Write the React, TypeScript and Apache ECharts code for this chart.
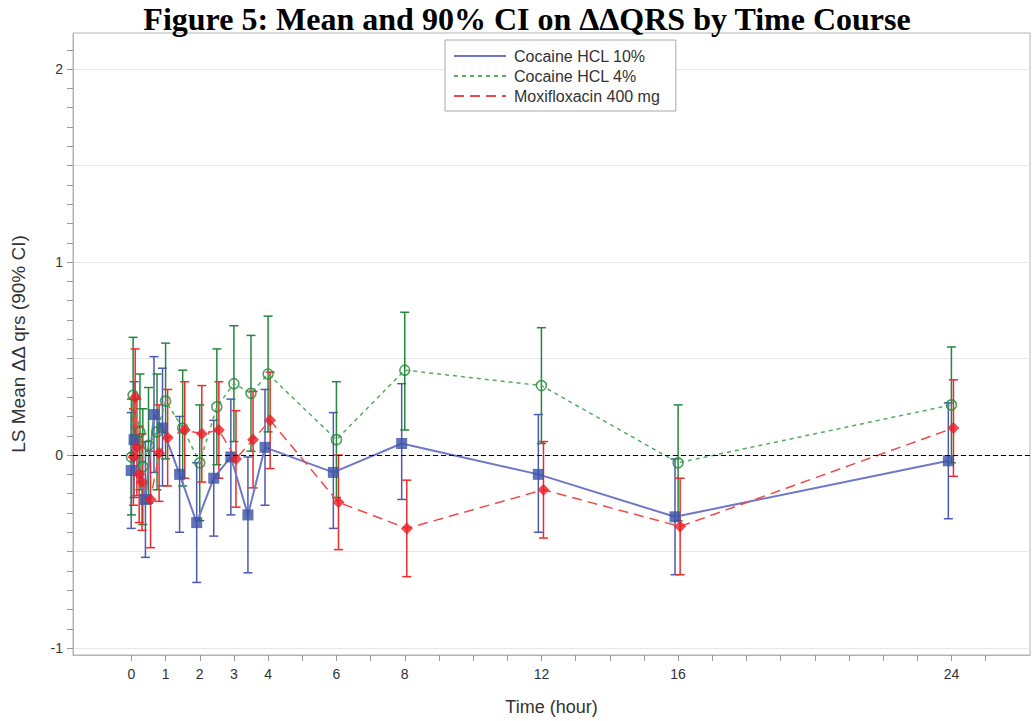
import React, { useEffect, useRef } from 'react';
import * as echarts from 'echarts';

// ---------- axis definitions ----------
const xLabelValues = [0, 1, 2, 3, 4, 6, 8, 12, 16, 24];
const xTickValues = [0, 1, 2, 3, 4, 5, 6, 7, 8, 9, 10, 11, 12, 13, 14, 15, 16, 17, 18, 19, 20, 21, 22, 23, 24, 25];
const yLabelValues = [-1, 0, 1, 2];
const yTickValues = [
  -1, -0.9, -0.8, -0.7, -0.6, -0.5, -0.4, -0.3, -0.2, -0.1, 0, 0.1, 0.2, 0.3, 0.4, 0.5,
  0.6, 0.7, 0.8, 0.9, 1, 1.1, 1.2, 1.3, 1.4, 1.5, 1.6, 1.7, 1.8, 1.9, 2, 2.1,
];
const yGridValues = [-1, -0.5, 0, 0.5, 1, 1.5, 2];

// ---------- series data ----------
const seriesNames = ['Cocaine HCL 10%', 'Cocaine HCL 4%', 'Moxifloxacin 400 mg'];

// Cocaine HCL 10%
const blueTimes = [0.083, 0.167, 0.5, 0.75, 1, 1.5, 2, 2.5, 3, 3.5, 4, 6, 8, 12, 16, 24];
const blueMean = [-0.08, 0.08, -0.23, 0.21, 0.14, -0.1, -0.35, -0.12, -0.01, -0.31, 0.04, -0.09, 0.06, -0.1, -0.32, -0.03];
const blueLower = [-0.38, -0.22, -0.53, -0.09, -0.16, -0.4, -0.66, -0.42, -0.31, -0.61, -0.26, -0.38, -0.23, -0.4, -0.62, -0.33];
const blueUpper = [0.22, 0.38, 0.07, 0.51, 0.45, 0.2, -0.04, 0.18, 0.29, -0.01, 0.34, 0.22, 0.37, 0.21, -0.02, 0.27];

// Cocaine HCL 4%
const greenTimes = [0, 0.05, 0.25, 0.333, 0.5, 0.75, 1, 1.5, 2, 2.5, 3, 3.5, 4, 6, 8, 12, 16, 24];
const greenMean = [-0.01, 0.31, 0.12, -0.06, 0.05, 0.12, 0.28, 0.14, -0.04, 0.25, 0.37, 0.32, 0.42, 0.08, 0.44, 0.36, -0.04, 0.26];
const greenLower = [-0.31, 0.01, -0.18, -0.36, -0.25, -0.18, -0.02, -0.16, -0.34, -0.05, 0.07, 0.02, 0.12, -0.22, 0.13, 0.06, -0.34, -0.04];
const greenUpper = [0.29, 0.61, 0.42, 0.24, 0.35, 0.42, 0.58, 0.44, 0.26, 0.55, 0.67, 0.62, 0.72, 0.38, 0.74, 0.66, 0.26, 0.56];

// Moxifloxacin 400 mg
const redTimes = [0, 0.05, 0.1, 0.167, 0.25, 0.5, 0.75, 1, 1.5, 2, 2.5, 3, 3.5, 4, 6, 8, 12, 16, 24];
const redMean = [-0.01, 0.3, 0.04, -0.1, -0.14, -0.23, 0.01, 0.09, 0.13, 0.11, 0.13, -0.02, 0.08, 0.18, -0.245, -0.38, -0.18, -0.37, 0.14];
const redLower = [-0.26, 0.05, -0.21, -0.35, -0.39, -0.48, -0.24, -0.16, -0.12, -0.14, -0.12, -0.27, -0.17, -0.07, -0.49, -0.63, -0.43, -0.62, -0.11];
const redUpper = [0.24, 0.55, 0.29, 0.15, 0.11, 0.02, 0.26, 0.34, 0.38, 0.36, 0.38, 0.23, 0.33, 0.43, 0.0, -0.13, 0.07, -0.12, 0.39];

// horizontal cluster offsets (hours) used to separate the groups
const groupOffsets = [-0.09, 0, 0.06];

const SANS = '"Liberation Sans", Arial, sans-serif';

type Group = {
  name: string;
  times: number[];
  mean: number[];
  lower: number[];
  upper: number[];
  offset: number;
  lineColor: string;
  lineWidth: number;
  dash: any;
  barColor: string;
  markColor: string;
  symbol: string;
  symbolSize: number;
  hollow: boolean;
};

const groups: Group[] = [
  {
    name: seriesNames[0], times: blueTimes, mean: blueMean, lower: blueLower, upper: blueUpper,
    offset: groupOffsets[0], lineColor: '#6E78C4', lineWidth: 2, dash: 'solid',
    barColor: '#4C5AB2', markColor: '#3A51A6', symbol: 'rect', symbolSize: 11, hollow: false,
  },
  {
    name: seriesNames[1], times: greenTimes, mean: greenMean, lower: greenLower, upper: greenUpper,
    offset: groupOffsets[1], lineColor: '#52AD5E', lineWidth: 1.5, dash: [4, 4],
    barColor: '#23883A', markColor: '#23883A', symbol: 'circle', symbolSize: 10, hollow: true,
  },
  {
    name: seriesNames[2], times: redTimes, mean: redMean, lower: redLower, upper: redUpper,
    offset: groupOffsets[2], lineColor: '#EE4B4B', lineWidth: 1.5, dash: [10, 6],
    barColor: '#EE2A2A', markColor: '#EC1C24', symbol: 'diamond', symbolSize: 12, hollow: false,
  },
];

export default function App() {
  const ref = useRef<HTMLDivElement>(null);

  useEffect(() => {
    if (!ref.current) return;
    const chart = echarts.init(ref.current, undefined, { renderer: 'svg' });

    const barSeries = groups.map((g) => ({
      type: 'custom',
      name: g.name + ' CI',
      z: 2,
      silent: true,
      encode: { x: 0, y: [1, 2] },
      data: g.times.map((t, i) => [t + g.offset, g.lower[i], g.upper[i]]),
      renderItem: (params: any, api: any) => {
        const x = api.value(0);
        const lo = api.coord([x, api.value(1)]);
        const hi = api.coord([x, api.value(2)]);
        const hw = 4.5;
        const style = { stroke: g.barColor, lineWidth: 1.5, fill: 'none' };
        return {
          type: 'group',
          children: [
            { type: 'line', shape: { x1: lo[0], y1: lo[1], x2: hi[0], y2: hi[1] }, style },
            { type: 'line', shape: { x1: lo[0] - hw, y1: lo[1], x2: lo[0] + hw, y2: lo[1] }, style },
            { type: 'line', shape: { x1: hi[0] - hw, y1: hi[1], x2: hi[0] + hw, y2: hi[1] }, style },
          ],
        };
      },
    }));

    const lineSeries = groups.map((g, gi) => ({
      type: 'line',
      name: g.name,
      z: 3,
      silent: true,
      symbol: 'none',
      data: g.times.map((t, i) => [t + g.offset, g.mean[i]]),
      lineStyle: { color: g.lineColor, width: g.lineWidth, type: g.dash },
      itemStyle: { color: g.lineColor },
      markLine:
        gi === 0
          ? {
              silent: true,
              symbol: ['none', 'none'],
              label: { show: false },
              lineStyle: { color: '#000', type: [5, 3], width: 1.2 },
              data: [{ yAxis: 0 }],
            }
          : undefined,
    }));

    const markSeries = groups.map((g) => ({
      type: 'scatter',
      name: g.name + ' mean',
      z: 4,
      silent: true,
      symbol: g.symbol,
      symbolSize: g.symbolSize,
      data: g.times.map((t, i) => [t + g.offset, g.mean[i]]),
      itemStyle: g.hollow
        ? { color: 'rgba(255,255,255,0)', borderColor: g.markColor, borderWidth: 1.6 }
        : { color: g.markColor },
    }));

    chart.setOption({
      animation: false,
      backgroundColor: '#fff',
      title: {
        text: 'Figure 5: Mean and 90% CI on ΔΔQRS by Time Course',
        left: 522,
        textAlign: 'center',
        top: -2,
        textStyle: {
          fontFamily: '"Liberation Serif", "Times New Roman", serif',
          fontWeight: 'bold',
          fontSize: 32,
          color: '#000',
        },
      },
      legend: {
        data: seriesNames,
        orient: 'vertical',
        left: 445,
        top: 40,
        itemWidth: 52,
        itemHeight: 14,
        itemGap: 4,
        padding: [8, 16, 7, 8],
        backgroundColor: '#fff',
        borderColor: '#a8a8a8',
        borderWidth: 1,
        borderRadius: 0,
        selectedMode: false,
        itemStyle: { opacity: 0 },
        textStyle: { fontFamily: SANS, fontSize: 16, color: '#333', padding: [0, 0, 0, 3] },
        z: 10,
      },
      grid: {
        left: 73,
        right: 4,
        top: 33,
        bottom: 66,
        show: true,
        borderColor: '#b4b4b4',
        borderWidth: 1,
        backgroundColor: '#fff',
      },
      xAxis: {
        type: 'value',
        min: -1.71,
        max: 26.3,
        name: 'Time (hour)',
        nameLocation: 'middle',
        nameGap: 43,
        nameTextStyle: { fontFamily: SANS, fontSize: 18, color: '#333' },
        axisLine: { show: true, onZero: false, lineStyle: { color: '#b4b4b4' } },
        axisTick: { show: true, length: 6, customValues: xTickValues, lineStyle: { color: '#999' } },
        axisLabel: { customValues: xLabelValues, fontFamily: SANS, fontSize: 14, color: '#333', margin: 12 },
        splitLine: { show: false },
      },
      yAxis: [
        {
          type: 'value',
          min: -1.036,
          max: 2.187,
          name: 'LS Mean ΔΔ qrs (90% CI)',
          nameLocation: 'middle',
          nameGap: 45,
          nameTextStyle: { fontFamily: SANS, fontSize: 19, color: '#333' },
          axisLine: { show: true, onZero: false, lineStyle: { color: '#b4b4b4' } },
          axisTick: { show: true, length: 6, customValues: yTickValues, lineStyle: { color: '#999' } },
          axisLabel: { customValues: yLabelValues, fontFamily: SANS, fontSize: 14, color: '#333', margin: 10 },
          splitLine: { show: false },
        },
        {
          type: 'value',
          min: -1.036,
          max: 2.187,
          position: 'left',
          axisLine: { show: false },
          axisTick: { show: false, customValues: yGridValues },
          axisLabel: { show: false },
          splitLine: { show: true, lineStyle: { color: '#e6e6ee', width: 1 } },
        },
      ],
      series: [...barSeries, ...lineSeries, ...markSeries],
    });

    return () => chart.dispose();
  }, []);

  return (
    <div
      ref={ref}
      style={{ position: 'fixed', left: 0, top: 0, width: '1034px', height: '721px', background: '#fff' }}
    />
  );
}
